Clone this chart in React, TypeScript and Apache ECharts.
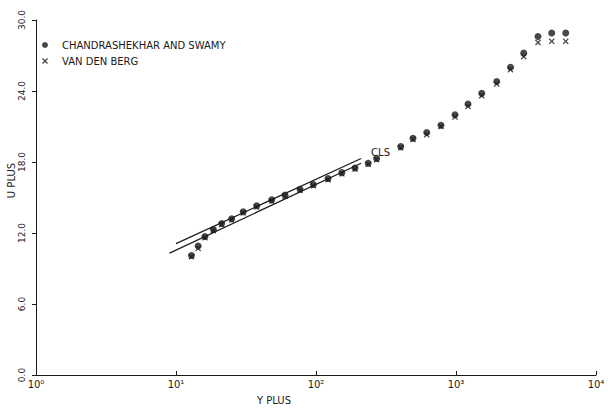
import React, { useEffect, useRef } from "react";
import * as echarts from "echarts";

// Y PLUS values shared by both data sets
const yPlus = [
  12.9, 14.4, 16.1, 18.5, 21.2, 25.0, 30.2, 37.7, 48.3, 60.1, 76.9, 95.7, 122, 153, 190, 236, 271,
  403, 493, 618, 781, 984, 1218, 1527, 1954, 2451, 3047, 3852, 4827, 6078,
];
// U PLUS, Chandrashekhar and Swamy (circles)
const uPlusCS = [
  10.1, 10.9, 11.7, 12.3, 12.8, 13.2, 13.8, 14.3, 14.8, 15.2, 15.7, 16.1, 16.6, 17.1, 17.5, 17.9, 18.3,
  19.3, 20.0, 20.5, 21.1, 22.0, 22.9, 23.8, 24.8, 26.0, 27.2, 28.6, 28.9, 28.9,
];
// U PLUS, Van den Berg (crosses)
const uPlusVDB = [
  10.0, 10.7, 11.6, 12.2, 12.7, 13.1, 13.7, 14.2, 14.7, 15.1, 15.6, 16.0, 16.5, 17.0, 17.4, 17.8, 18.2,
  19.2, 19.9, 20.3, 21.0, 21.8, 22.7, 23.6, 24.6, 25.8, 26.9, 28.1, 28.2, 28.2,
];
// Log-law reference lines (end points)
const lawUpper = [
  [10, 11.1],
  [210, 18.3],
];
const lawLower = [
  [9, 10.3],
  [210, 17.9],
];
const yTicks = [0, 6, 12, 18, 24, 30];
const xTickLabels = ["10⁰", "10¹", "10²", "10³", "10⁴"];
const legendNames = ["CHANDRASHEKHAR AND SWAMY", "VAN DEN BERG"];

const crossPath =
  "path://M0,1.5L1.5,0L5,3.5L8.5,0L10,1.5L6.5,5L10,8.5L8.5,10L5,6.5L1.5,10L0,8.5L3.5,5Z";

export default function App() {
  const ref = useRef<HTMLDivElement>(null);
  useEffect(() => {
    if (!ref.current) return;
    const chart = echarts.init(ref.current, null, { renderer: "svg" });
    const font = "DejaVu Sans";
    const ink = "#1a1a1a";
    chart.setOption({
      animation: false,
      backgroundColor: "#ffffff",
      textStyle: { fontFamily: font, color: ink },
      grid: { left: 36, right: 12, top: 20, bottom: 35, outerBoundsMode: "none", containLabel: false },
      legend: {
        orient: "vertical",
        left: 37,
        top: 35,
        itemWidth: 24,
        itemHeight: 6,
        itemGap: 6,
        data: legendNames,
        textStyle: { fontFamily: font, fontSize: 10, color: ink },
      },
      xAxis: {
        type: "log",
        logBase: 10,
        min: 1,
        max: 10000,
        name: "Y PLUS",
        nameLocation: "middle",
        nameGap: 20,
        nameMoveOverlap: false,
        nameTextStyle: { fontFamily: font, fontSize: 10, color: ink, padding: [0, 84, 0, 0] },
        axisLine: { lineStyle: { color: ink, width: 1 } },
        axisTick: { inside: true, length: 4, lineStyle: { color: ink } },
        minorTick: { show: false },
        splitLine: { show: false },
        axisLabel: {
          color: ink,
          fontSize: 10,
          margin: 4,
          formatter: (v: number) => xTickLabels[Math.round(Math.log10(v))] ?? "",
        },
      },
      yAxis: {
        type: "value",
        min: 0,
        max: 30,
        interval: 6,
        name: "U PLUS",
        nameLocation: "middle",
        nameRotate: 90,
        nameGap: 20,
        nameMoveOverlap: false,
        nameTextStyle: { fontFamily: font, fontSize: 10, color: ink, padding: [0, 0, 0, 34] },
        axisLine: { show: true, lineStyle: { color: ink, width: 1 } },
        axisTick: { show: true, length: 4, lineStyle: { color: ink } },
        splitLine: { show: false },
        axisLabel: {
          color: ink,
          fontSize: 9,
          rotate: 90,
          margin: 10,
          formatter: (v: number) => (yTicks.includes(v) ? v.toFixed(1) : ""),
        },
      },
      series: [
        {
          name: legendNames[0],
          type: "scatter",
          symbol: "circle",
          symbolSize: 7,
          itemStyle: { color: ink },
          data: yPlus.map((x, i) => [x, uPlusCS[i]]),
        },
        {
          name: legendNames[1],
          type: "scatter",
          symbol: crossPath,
          symbolSize: 6,
          itemStyle: { color: ink },
          data: yPlus.map((x, i) => [x, uPlusVDB[i]]),
        },
        {
          name: "upper",
          type: "line",
          symbol: "none",
          lineStyle: { color: ink, width: 1.2 },
          data: lawUpper,
          endLabel: {
            show: true,
            formatter: "CLS",
            fontFamily: font,
            fontSize: 10,
            color: ink,
            offset: [2, -6],
          },
        },
        {
          name: "lower",
          type: "line",
          symbol: "none",
          lineStyle: { color: ink, width: 1.2 },
          data: lawLower,
        },
      ],
    });
    return () => chart.dispose();
  }, []);
  return (
    <div
      ref={ref}
      style={{ position: "fixed", left: 0, top: 0, width: 608, height: 410 }}
    />
  );
}
